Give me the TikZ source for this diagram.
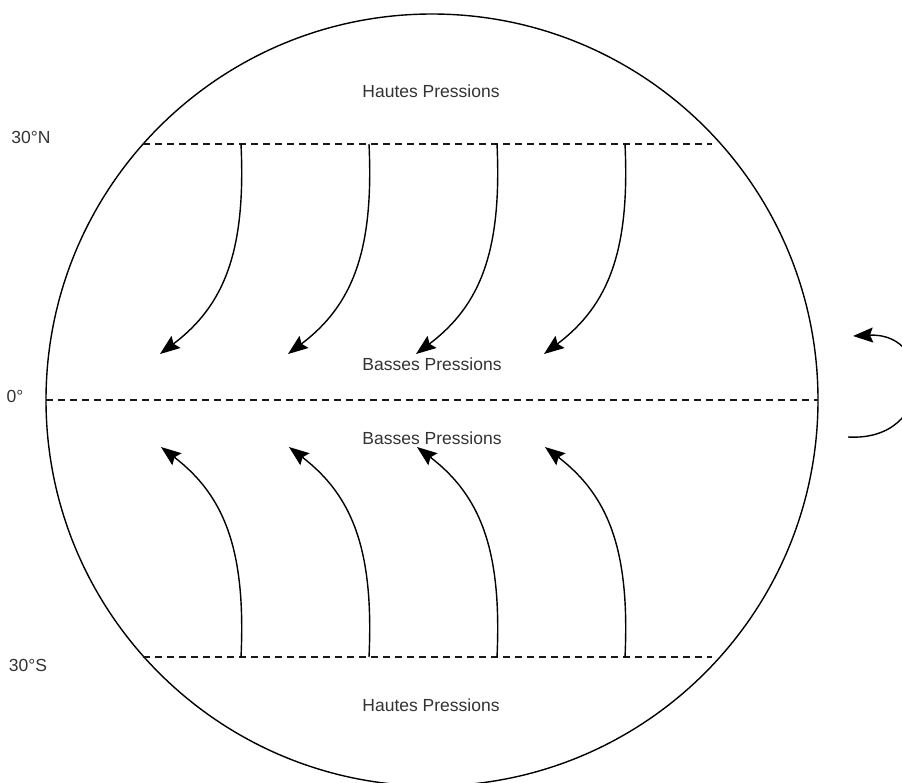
\documentclass[tikz,border=0pt]{standalone}
\usepackage{fontspec}
\setmainfont{Liberation Sans}
\usetikzlibrary{arrows.meta,calc}
\begin{document}
\begin{tikzpicture}[x=1pt,y=-1pt,
  lbl/.style={text=black!80,font=\fontsize{17.5}{20}\selectfont,inner sep=0pt},
  lat/.style={draw=black!90,line width=1.4pt,dash pattern=on 7pt off 5pt},
  wind/.style={draw=black,line width=1.4pt,-{Stealth[length=20pt,width=15pt,inset=3pt]}}]
\clip (0,0) rectangle (902,782);
\fill[white] (0,0) rectangle (902,782);
% globe
\node[circle,draw=black,line width=1.4pt,minimum size=772pt,inner sep=0pt] (globe) at (432,400) {};
% parallels
\coordinate (nL) at (143,144); \coordinate (nR) at (712,144);
\coordinate (eL) at (46,400);  \coordinate (eR) at (818,400);
\coordinate (sL) at (143,657); \coordinate (sR) at (712,657);
\draw[lat] (nL) -- (nR);
\draw[lat] (eL) -- (eR);
\draw[lat] (sL) -- (sR);
% labels
\node[lbl] (hpN) at (431,91) {Hautes Pressions};
\node[lbl] (bpN) at (432,364) {Basses Pressions};
\node[lbl] (bpS) at (432,438) {Basses Pressions};
\node[lbl] (hpS) at (431,705) {Hautes Pressions};
\node[lbl] (l30n) at (31,137) {30°N};
\node[lbl] (l0) at (15,396) {0°};
\node[lbl] (l30s) at (28,665) {30°S};
% winds
\foreach \x [count=\i] in {241,369,497,625}{
  \coordinate (ns\i) at (\x,144);
  \coordinate (ne\i) at (\x-81,354);
  \coordinate (ss\i) at (\x,657);
  \coordinate (se\i) at (\x-80,447);
  \draw[wind] (ns\i) .. controls ($(ns\i)+(5,106)$) and ($(ns\i)+(-16,161)$) .. (ne\i);
  \draw[wind] (ss\i) .. controls ($(ss\i)+(5,-106)$) and ($(ss\i)+(-16,-161)$) .. (se\i);
}
% rotation
\coordinate (r1) at (848,437);
\coordinate (r2) at (853,336);
\draw[wind] (r1) .. controls (935,442) and (935,332) .. (r2);
\end{tikzpicture}
\end{document}
